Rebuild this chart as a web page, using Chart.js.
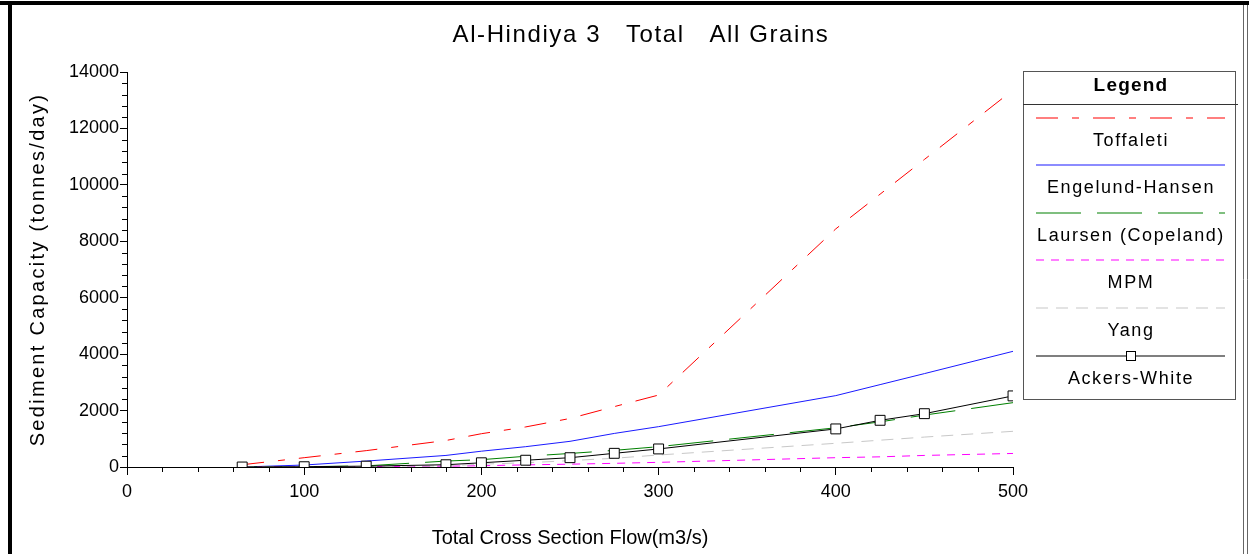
<!DOCTYPE html>
<html>
<head>
<meta charset="utf-8">
<script src="https://cdn.jsdelivr.net/npm/chart.js@4.4.0/dist/chart.umd.min.js"></script>
<style>
  html, body { margin: 0; padding: 0; background: #fff; }
  #wrap { width: 1249px; height: 554px; }
</style>
</head>
<body>
<div id="wrap"><canvas id="sediment" width="1249" height="554"></canvas></div>
<script>
// flows (m3/s) and sediment capacity (tonnes/day)
var flows = [65, 100, 135, 180, 200, 225, 250, 275, 300, 400, 425, 450, 500];
var toffaleti = [80, 330, 580, 940, 1180, 1420, 1720, 2140, 2550, 8440, 9670, 10900, 13360];
var engelundHansen = [0, 70, 210, 410, 560, 720, 910, 1190, 1430, 2530, 2920, 3310, 4100];
var laursen = [0, 10, 40, 210, 260, 380, 480, 590, 720, 1390, 1600, 1840, 2280];
var mpm = [0, 5, 15, 30, 45, 75, 100, 130, 165, 330, 360, 410, 480];
var yang = [0, 10, 20, 40, 100, 150, 225, 310, 425, 840, 950, 1060, 1265];
var ackersWhite = [0, 10, 30, 80, 150, 240, 330, 485, 640, 1350, 1655, 1890, 2520];

var seriesNames = ['Toffaleti', 'Engelund-Hansen', 'Laursen (Copeland)', 'MPM', 'Yang', 'Ackers-White'];
var xTicks = [0, 100, 200, 300, 400, 500];
var yTicks = [0, 2000, 4000, 6000, 8000, 10000, 12000, 14000];

var chartTitle = 'Al-Hindiya 3   Total   All Grains';
var xTitle = 'Total Cross Section Flow(m3/s)';
var yTitle = 'Sediment Capacity (tonnes/day)';

function pts(vals) {
  return flows.map(function (f, i) { return { x: f, y: vals[i] }; });
}

var FONT = "'Liberation Sans', Arial, sans-serif";
var colors = ['#ff0000', '#1a1aff', '#008000', '#ff00ff', '#c8c8c8', '#000000'];
var dashes = [[22, 14, 7, 14], [], [45, 16], [8, 7], [12, 8], []];

function series(i, vals, extra) {
  var d = {
    label: seriesNames[i],
    data: pts(vals),
    borderColor: colors[i],
    backgroundColor: colors[i],
    borderWidth: 1,
    borderDash: dashes[i],
    pointRadius: 0,
    tension: 0,
    order: 6 - i
  };
  for (var k in extra) d[k] = extra[k];
  return d;
}

var datasets = [
  series(0, toffaleti),
  series(1, engelundHansen),
  series(2, laursen),
  series(3, mpm),
  series(4, yang),
  series(5, ackersWhite, {
    pointStyle: 'rect', pointRadius: 7, pointBorderWidth: 1,
    pointBackgroundColor: '#ffffff', pointBorderColor: '#000000', order: 0
  })
];

// frame, titles, minor ticks and the boxed legend
var decorations = {
  id: 'decorations',
  beforeDraw: function (chart) {
    var ctx = chart.ctx;
    ctx.save();
    ctx.fillStyle = '#fff';
    ctx.fillRect(0, 0, chart.width, chart.height);
    ctx.fillStyle = '#000';
    ctx.fillRect(0, 1, chart.width, 4);
    ctx.fillRect(8, 1, 4, chart.height);
    ctx.strokeStyle = '#666';
    ctx.lineWidth = 1;
    ctx.beginPath();
    ctx.moveTo(1243.5, 5); ctx.lineTo(1243.5, chart.height);
    ctx.moveTo(1247.5, 5); ctx.lineTo(1247.5, chart.height);
    ctx.stroke();
    ctx.restore();
  },
  afterDraw: function (chart) {
    var ctx = chart.ctx;
    var xs = chart.scales.x, ys = chart.scales.y;
    var area = chart.chartArea;
    ctx.save();

    // minor ticks
    ctx.strokeStyle = '#000';
    ctx.lineWidth = 1;
    ctx.beginPath();
    for (var v = 20; v < 500; v += 20) {
      if (v % 100 === 0) continue;
      var px = Math.round(xs.getPixelForValue(v)) + 0.5;
      ctx.moveTo(px, area.bottom); ctx.lineTo(px, area.bottom + 5);
    }
    for (var w = 400; w < 14000; w += 400) {
      if (w % 2000 === 0) continue;
      var py = Math.round(ys.getPixelForValue(w)) + 0.5;
      ctx.moveTo(area.left - 5, py); ctx.lineTo(area.left, py);
    }
    ctx.stroke();

    ctx.fillStyle = '#000';
    ctx.textAlign = 'center';
    ctx.textBaseline = 'middle';

    // main title
    ctx.font = '24px ' + FONT;
    ctx.letterSpacing = '1.6px';
    ctx.fillText(chartTitle, 641, 35);

    // axis titles
    ctx.font = '20px ' + FONT;
    ctx.letterSpacing = '0px';
    ctx.fillText(xTitle, (area.left + area.right) / 2, 538);

    ctx.save();
    ctx.translate(38, (area.top + area.bottom) / 2);
    ctx.rotate(-Math.PI / 2);
    ctx.letterSpacing = '2.3px';
    ctx.fillText(yTitle, 0, 0);
    ctx.restore();

    // legend box
    ctx.strokeStyle = '#555';
    ctx.lineWidth = 1;
    ctx.strokeRect(1023.5, 71.5, 212, 328);
    ctx.strokeStyle = '#333';
    ctx.beginPath();
    ctx.moveTo(1023, 104.5); ctx.lineTo(1238, 104.5);
    ctx.stroke();

    ctx.font = 'bold 19px ' + FONT;
    ctx.letterSpacing = '1.2px';
    ctx.fillText('Legend', 1131, 86);

    ctx.font = '18px ' + FONT;
    ctx.letterSpacing = '1.6px';
    seriesNames.forEach(function (name, i) {
      var ly = Math.round(117.5 + i * 47.6);
      ctx.strokeStyle = colors[i];
      ctx.lineWidth = 1.2;
      ctx.setLineDash(dashes[i]);
      ctx.beginPath();
      ctx.moveTo(1036, ly); ctx.lineTo(1225, ly);
      ctx.stroke();
      ctx.setLineDash([]);
      if (i === 5) {
        ctx.lineWidth = 1;
        ctx.fillStyle = '#fff';
        ctx.fillRect(1126.5, ly - 4.5, 9, 9);
        ctx.strokeStyle = '#000';
        ctx.strokeRect(1126.5, ly - 4.5, 9, 9);
      }
      ctx.fillStyle = '#000';
      ctx.fillText(name, 1131, ly + 23);
    });

    ctx.restore();
  }
};

new Chart(document.getElementById('sediment'), {
  type: 'line',
  data: { datasets: datasets },
  plugins: [decorations],
  options: {
    responsive: false,
    animation: false,
    events: [],
    layout: { padding: { left: 10, right: 236, top: 72, bottom: 0 } },
    plugins: {
      legend: { display: false },
      title: { display: false },
      tooltip: { enabled: false }
    },
    scales: {
      x: {
        type: 'linear',
        min: 0,
        max: 500,
        afterBuildTicks: function (s) { s.ticks = xTicks.map(function (v) { return { value: v }; }); },
        afterFit: function (s) { s.height = 87; },
        ticks: {
          color: '#000', padding: 6, maxRotation: 0, font: { family: FONT, size: 18 },
          callback: function (value) { return String(value); }
        },
        grid: { display: true, drawOnChartArea: false, drawTicks: true, tickLength: 8, color: '#000' },
        border: { display: true, color: '#000', width: 1 }
      },
      y: {
        type: 'linear',
        min: 0,
        max: 14000,
        afterBuildTicks: function (s) { s.ticks = yTicks.map(function (v) { return { value: v }; }); },
        afterFit: function (s) { s.width = 117; },
        ticks: {
          color: '#000', padding: 1, font: { family: FONT, size: 18 },
          callback: function (value) { return String(value); }
        },
        grid: { display: true, drawOnChartArea: false, drawTicks: true, tickLength: 7, color: '#000' },
        border: { display: true, color: '#000', width: 1 }
      }
    }
  }
});
</script>
</body>
</html>
